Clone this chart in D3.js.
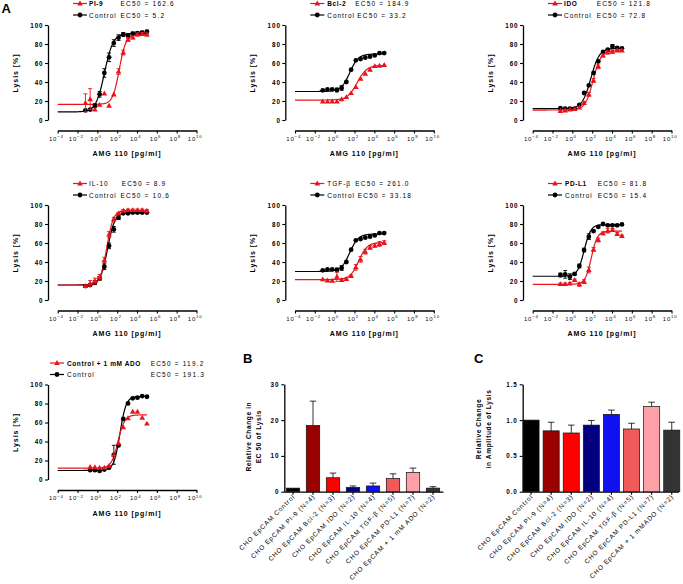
<!DOCTYPE html>
<html><head><meta charset="utf-8">
<script src="https://cdn.jsdelivr.net/npm/d3@7"></script>
<style>
body{margin:0;background:#fff}
svg{display:block;font-family:"Liberation Sans",Arial,sans-serif}
</style></head><body>
<svg id="c" width="683" height="584"></svg>
<script>
// ---------- DATA ----------
const conc = [0.0627,0.188,0.565,1.69,5.08,15.2,45.7,137,412,1235,3704,11111,33333,100000];
const adoConc = [0.188,0.565,1.69,5.08,15.2,45.7,137,412,1235,3704,11111,33333,100000];
const doseTicks = [1e-4,1e-2,1,1e2,1e4,1e6,1e8,1e10];
const lysisTicks = [0,20,40,60,80,100];

// fit parameters: [bottom, top, logEC50, hill]
const pi9Val = [18,22,11,16,28,15,27,51,71,84.5,87,90,90.5,90];
const pi9Err = [9.5,11,0,0,0,0,0,3,2.5,1.5,1.5,1.5,1.5,1.5];
const pi9CtrlVal = [10.2,11,15,27,49.5,66,81,86.7,90,89,91,91.5,92,93];
const pi9CtrlErr = [0,0,2,3,4.5,4.5,3.5,3,2,1.5,1.5,1.5,1.5,1.5];
const pi9Fit = [16.5,90,2.21,1.3];
const pi9CtrlFit = [8.5,91,0.72,1.0];

const bcl2Val = [19.6,19.6,19.6,19.6,22,24.2,28.4,34.7,43.5,48.8,53,56.8,57.2,57.9];
const bcl2Err = [0,0,0,0,0,0,0,0,0,0,0,0,0,0];
const bcl2CtrlVal = [31.2,32.3,32.3,31.6,33.7,40,53,62.8,64.2,65.6,66.7,68,70.5,70.5];
const bcl2CtrlErr = [0,0,0,2,2.5,0,0,0,0,0,0,0,0,0];
const bcl2Fit = [21,57.5,2.27,0.9];
const bcl2CtrlFit = [30,69.5,1.52,1.0];

const idoVal = [9.5,10,11.2,11.6,13.3,17.9,27,41.7,56.5,68,71.2,72,73.3,73.3];
const idoErr = [1,1,0,0,0,1.5,2,2,2.5,1.5,1.5,1.5,1,1];
const idoCtrlVal = [12.6,12,12,12,16,28.4,36.5,49.5,61.8,71.6,74,77.5,76,75.4];
const idoCtrlErr = [0,0,0,0,0,0,0,0,0,0,1,2,1,1];
const idoFit = [10.5,73,2.09,1.1];
const idoCtrlFit = [12,75.5,1.86,1.0];

const il10Val = [14.7,17.5,20,23.9,42,69,85,91.2,94,94.7,94.7,94.7,94.7,94];
const il10Err = [1,3,3,3,3,3,2,1,1,1,1,1,1,1];
const il10CtrlVal = [14.7,15.8,18.2,22.8,35,57,74.4,86.7,91.2,91.2,92,92,92,92];
const il10CtrlErr = [1,1,2,2,3,3,3,2,1,1,1,1,1,1];
const il10Fit = [15.8,94.5,0.95,1.3];
const il10CtrlFit = [15.8,92,1.03,1.2];

const tgfVal = [21.8,20.7,20.4,24.6,21,22.1,25.3,34.4,42.8,50.9,55.4,57.5,59,60.4];
const tgfErr = [0,1,1,5,1,1,1,3,3,2.5,2,2,2.5,2];
const tgfCtrlVal = [31.2,32.3,32.3,31.6,33.7,40,53,62.8,64.2,65.6,66.7,68,70.5,70.5];
const tgfCtrlErr = [0,0,0,2,2.5,0,0,0,0,0,0,0,0,0];
const tgfFit = [21.5,60.5,2.42,1.0];
const tgfCtrlFit = [30,69.5,1.52,1.0];

const pdl1Val = [16.8,16.8,17.5,21,16.5,19.3,31.6,53.3,63.2,70.2,73,73.7,69.5,67.4];
const pdl1Err = [1,1,1,1,2,2,3,2,2,1.5,2.5,1.5,1.5,1];
const pdl1CtrlVal = [26.3,27,24.6,27.4,35.8,52.6,66.7,72.6,77,80,78.6,78.6,78.6,79.6];
const pdl1CtrlErr = [2,4,3,1,2,2,3,1,1,1,1,1,1,1];
const pdl1Fit = [16.5,72.5,1.91,1.4];
const pdl1CtrlFit = [25,79.5,1.19,1.3];

const adoVal = [13.2,12.9,12.5,12.5,14.6,26,38.3,55,64.5,71.4,71.4,65,58.9];
const adoErr = [0,0,0,0,0,0,0,0,0,0,0,0,0];
const adoCtrlVal = [9.8,9.8,9,10.5,12.5,26,35.9,63.8,80.1,85.4,86.1,87.8,87.1];
const adoCtrlErr = [0,0,0,0,0,10,0,0,0,0,0,0,0];
const adoFit = [12,68,2.08,1.3];
const adoCtrlFit = [9.5,87.5,2.28,1.4];

const legendNames = ["PI-9","Bcl-2","IDO","IL-10","TGF-β","PD-L1","Control + 1 mM ADO"];
const legendEC50 = ["162.6","184.9","121.8","8.9","261.0","81.8","119.2"];
const controlEC50 = ["5.2","33.2","72.8","10.6","33.18","15.4","191.3"];

const barLabelsB = ["CHO EpCAM Control","CHO EpCAM PI-9 (N=4)","CHO EpCAM Bcl-2 (N=3)","CHO EpCAM IDO (N=2)","CHO EpCAM IL-10 (N=4)","CHO EpCAM TGF-β (N=5)","CHO EpCAM PD-L1 (N=7)","CHO EpCAM + 1 mM ADO (N=2)"];
const barLabelsC = ["CHO EpCAM Control","CHO EpCAM PI-9 (N=4)","CHO EpCAM Bcl-2 (N=3)","CHO EpCAM IDO (N=2)","CHO EpCAM IL-10 (N=4)","CHO EpCAM TGF-β (N=5)","CHO EpCAM PD-L1 (N=7)","CHO EpCAM + 1 mMADO (N=2)"];
const ec50Change = [1.0,18.5,3.9,1.2,1.6,3.7,5.4,1.0];
const ec50ChangeErr = [0,6.8,1.3,0.4,0.8,1.3,1.2,0.4];
const ampChange = [1.0,0.85,0.82,0.93,1.08,0.876,1.19,0.86];
const ampChangeErr = [0,0.12,0.11,0.065,0.06,0.08,0.06,0.11];
const ec50Ticks = [0,10,20,30];
const ampTicks = [0,0.5,1.0,1.5];
const barColors = ["#000000","#990000","#ff0000","#000080","#1010f0","#f05a5a","#ffa0a8","#333333"];

// ---------- DRAWING ----------
const svg = d3.select('#c');
const RED = '#e8141c';
const colX = [0, 237.3, 475];
const rowY = [0, 180, 359.5];

const panels = [
  {col:0,row:0,name:0,bold:true, legX:73,labX:89,ecX:[120.5,120.5], xs:conc, r:pi9Val, re:pi9Err, rf:pi9Fit, k:pi9CtrlVal, ke:pi9CtrlErr, kf:pi9CtrlFit},
  {col:1,row:0,name:1,bold:true, legX:73,labX:90,ecX:[118,120], xs:conc, r:bcl2Val, re:bcl2Err, rf:bcl2Fit, k:bcl2CtrlVal, ke:bcl2CtrlErr, kf:bcl2CtrlFit},
  {col:2,row:0,name:2,bold:true, legX:73,labX:89,ecX:[121.7,121.7], xs:conc, r:idoVal, re:idoErr, rf:idoFit, k:idoCtrlVal, ke:idoCtrlErr, kf:idoCtrlFit},
  {col:0,row:1,name:3,bold:false,legX:73,labX:89,ecX:[121.7,120.5], xs:conc, r:il10Val, re:il10Err, rf:il10Fit, k:il10CtrlVal, ke:il10CtrlErr, kf:il10CtrlFit},
  {col:1,row:1,name:4,bold:false,legX:73,labX:90,ecX:[118,120.5], xs:conc, r:tgfVal, re:tgfErr, rf:tgfFit, k:tgfCtrlVal, ke:tgfCtrlErr, kf:tgfCtrlFit},
  {col:2,row:1,name:5,bold:true, legX:73,labX:90,ecX:[122.7,122.7], xs:conc, r:pdl1Val, re:pdl1Err, rf:pdl1Fit, k:pdl1CtrlVal, ke:pdl1CtrlErr, kf:pdl1CtrlFit},
  {col:0,row:2,name:6,bold:true, legX:50,labX:67,ecX:[150.7,150.7], xs:adoConc, r:adoVal, re:adoErr, rf:adoFit, k:adoCtrlVal, ke:adoCtrlErr, kf:adoCtrlFit}
];

function fourPL(fit, lx){ const [b,t,le,h]=fit; return b + (t-b)/(1+Math.pow(10,(le-lx)*h)); }

const triSym = d3.symbol().type(d3.symbolTriangle).size(14);

function styleAxis(a){
  a.attr('font-family',null).attr('font-size',null);
  a.select('.domain').attr('stroke','#000').attr('stroke-width',1.3);
  a.selectAll('.tick line').attr('stroke','#000').attr('stroke-width',1.1);
}

function drawCurvePanel(p){
  const g = svg.append('g').attr('transform',`translate(${colX[p.col]},${rowY[p.row]})`);
  const x = d3.scaleLog().domain([1e-4,1e10]).range([57.7,196.5]);
  const y = d3.scaleLinear().domain([0,100]).range([120,25]);

  const ya = g.append('g').attr('transform','translate(48,0)')
    .call(d3.axisLeft(y).tickValues(lysisTicks).tickSize(3).tickSizeOuter(0).tickPadding(1.5));
  styleAxis(ya);
  ya.selectAll('.tick text').attr('font-size',6.3).attr('font-weight','bold').attr('letter-spacing',0.9).attr('fill','#000');

  const xa = g.append('g').attr('transform','translate(0,130.5)')
    .call(d3.axisBottom(x).tickValues(doseTicks).tickSize(3).tickSizeOuter(0).tickFormat(()=>''));
  styleAxis(xa);
  xa.selectAll('.tick text').remove();
  xa.selectAll('.tick').each(function(d){
    const e = Math.round(Math.log10(d));
    const t = d3.select(this).append('text').attr('x',-1.8).attr('y',10.3).attr('text-anchor','middle')
      .attr('font-size',6).attr('letter-spacing',0.8).attr('fill','#111');
    t.append('tspan').text('10');
    t.append('tspan').attr('dy',-2.6).attr('font-size',4.4).text(String(e).replace('-','−'));
  });

  g.append('text').attr('x',127).attr('y',156).attr('text-anchor','middle')
    .attr('font-size',7).attr('font-weight','bold').attr('letter-spacing',0.95).text('AMG 110 [pg/ml]');
  g.append('text').attr('transform','translate(18,73) rotate(-90)').attr('text-anchor','middle')
    .attr('font-size',7).attr('font-weight','bold').attr('letter-spacing',0.95).text('Lysis [%]');

  const grid = d3.range(-4, 5.0001, 0.05);
  const line = d3.line().x(d=>x(Math.pow(10,d[0]))).y(d=>y(d[1]));
  const xmax = Math.log10(d3.max(p.xs));
  const series = [
    {vals:p.k, errs:p.ke, fit:p.kf, color:'#000', shape:'circle'},
    {vals:p.r, errs:p.re, fit:p.rf, color:RED, shape:'tri'}
  ];
  series.forEach(s=>{
    const pts = grid.filter(l=>l<=xmax+1e-9).map(l=>[l, fourPL(s.fit,l)]);
    g.append('path').attr('d',line(pts)).attr('fill','none').attr('stroke',s.color).attr('stroke-width',1.2);
  });
  series.forEach(s=>{
    const eg = g.append('g').attr('stroke',s.color).attr('stroke-width',0.9);
    p.xs.forEach((c,i)=>{
      const e = s.errs[i]; if(!e) return;
      const cx = x(c), y1 = y(s.vals[i]-e), y2 = y(s.vals[i]+e);
      eg.append('line').attr('x1',cx).attr('x2',cx).attr('y1',y1).attr('y2',y2);
      eg.append('line').attr('x1',cx-2).attr('x2',cx+2).attr('y1',y1).attr('y2',y1);
      eg.append('line').attr('x1',cx-2).attr('x2',cx+2).attr('y1',y2).attr('y2',y2);
    });
    p.xs.forEach((c,i)=>{
      if(s.shape==='circle') g.append('circle').attr('cx',x(c)).attr('cy',y(s.vals[i])).attr('r',2.4).attr('fill',s.color);
      else g.append('path').attr('d',triSym()).attr('transform',`translate(${x(c)},${y(s.vals[i])+0.4})`).attr('fill',s.color);
    });
  });

  // legend
  const legRows = [
    {color:RED, shape:'tri', label:legendNames[p.name], bold:p.bold, ec:legendEC50[p.name], ly:3.5, ex:p.ecX[0]},
    {color:'#000', shape:'circle', label:'Control', bold:false, ec:controlEC50[p.name], ly:15, ex:p.ecX[1]}
  ];
  legRows.forEach(r=>{
    g.append('line').attr('x1',p.legX).attr('x2',p.legX+14).attr('y1',r.ly).attr('y2',r.ly).attr('stroke',r.color).attr('stroke-width',1.2);
    if(r.shape==='circle') g.append('circle').attr('cx',p.legX+7).attr('cy',r.ly).attr('r',2.4).attr('fill',r.color);
    else g.append('path').attr('d',triSym()).attr('transform',`translate(${p.legX+7},${r.ly+0.4})`).attr('fill',r.color);
    g.append('text').attr('x',p.labX).attr('y',r.ly+2.5).attr('font-size',6.5).attr('letter-spacing',r.bold?0.6:0.95)
      .attr('font-weight',r.bold?'bold':'normal').text(r.label);
    g.append('text').attr('x',r.ex).attr('y',r.ly+2.5).attr('font-size',6.5).attr('letter-spacing',1.2)
      .text('EC50 = '+r.ec);
  });
}
panels.forEach(drawCurvePanel);

function drawBarPanel(cfg){
  const g = svg.append('g');
  const x = d3.scaleBand().domain(cfg.labels).range(cfg.range).paddingInner(cfg.padIn).paddingOuter(cfg.padOut);
  const y = d3.scaleLinear().domain(cfg.domain).range([491.7,384.3]);
  const ya = g.append('g').attr('transform',`translate(${cfg.axisX},0)`)
    .call(d3.axisLeft(y).tickValues(cfg.ticks).tickSize(3).tickSizeOuter(0).tickPadding(2).tickFormat(cfg.fmt));
  styleAxis(ya);
  ya.selectAll('.tick text').attr('font-size',6.3).attr('font-weight','bold').attr('letter-spacing',0.9).attr('fill','#000');
  const xa = g.append('g').attr('transform','translate(0,491.7)')
    .call(d3.axisBottom(x).tickSize(3).tickSizeOuter(0).tickFormat(()=>''));
  styleAxis(xa);
  xa.select('.domain').attr('d',`M${cfg.axisX},0.5H${cfg.axisEnd}`);
  xa.selectAll('.tick text').remove();
  g.selectAll('rect.bar').data(cfg.values).join('rect')
    .attr('x',(d,i)=>x(cfg.labels[i])).attr('width',x.bandwidth())
    .attr('y',d=>y(d)).attr('height',d=>y(0)-y(d))
    .attr('fill',(d,i)=>barColors[i]).attr('stroke','#111').attr('stroke-width',0.7);
  cfg.values.forEach((v,i)=>{
    const e = cfg.errs[i]; if(!e) return;
    const cx = x(cfg.labels[i]) + x.bandwidth()/2;
    g.append('line').attr('x1',cx).attr('x2',cx).attr('y1',y(v)).attr('y2',y(v+e)).attr('stroke','#000').attr('stroke-width',0.8);
    g.append('line').attr('x1',cx-3.3).attr('x2',cx+3.3).attr('y1',y(v+e)).attr('y2',y(v+e)).attr('stroke','#000').attr('stroke-width',0.8);
  });
  cfg.labels.forEach((l,i)=>{
    const cx = x(l) + x.bandwidth()/2;
    g.append('text').attr('transform',`translate(${cx+2.5},${497}) rotate(-45)`).attr('text-anchor','end')
      .attr('font-size',6.5).attr('letter-spacing',0.85).text(l);
  });
  cfg.title.forEach((t,i)=>{
    g.append('text').attr('transform',`translate(${cfg.titleX[i]},${cfg.titleY}) rotate(-90)`).attr('text-anchor','middle')
      .attr('font-size',6.6).attr('font-weight','bold').attr('letter-spacing',0.6).text(t);
  });
  g.append('text').attr('x',cfg.letterX).attr('y',363).attr('font-size',13).attr('font-weight','bold').text(cfg.letter);
}

drawBarPanel({labels:barLabelsB, values:ec50Change, errs:ec50ChangeErr, domain:[0,30], ticks:ec50Ticks, fmt:d3.format('d'),
  range:[283,443], padIn:0.33, padOut:0.165, axisX:284.3, axisEnd:443.5,
  title:['Relative Change in','EC 50 of Lysis'], titleX:[250.6,260.6], titleY:436.7, letter:'B', letterX:243});
drawBarPanel({labels:barLabelsC, values:ampChange, errs:ampChangeErr, domain:[0,1.5], ticks:ampTicks, fmt:d3.format('.1f'),
  range:[521,681.8], padIn:0.2, padOut:0.1, axisX:522.7, axisEnd:679,
  title:['Relative Change','in Amplitude of Lysis'], titleX:[480.6,490.6], titleY:429, letter:'C', letterX:474});

svg.append('text').attr('x',1.5).attr('y',13.3).attr('font-size',13).attr('font-weight','bold').text('A');
</script>
</body></html>
